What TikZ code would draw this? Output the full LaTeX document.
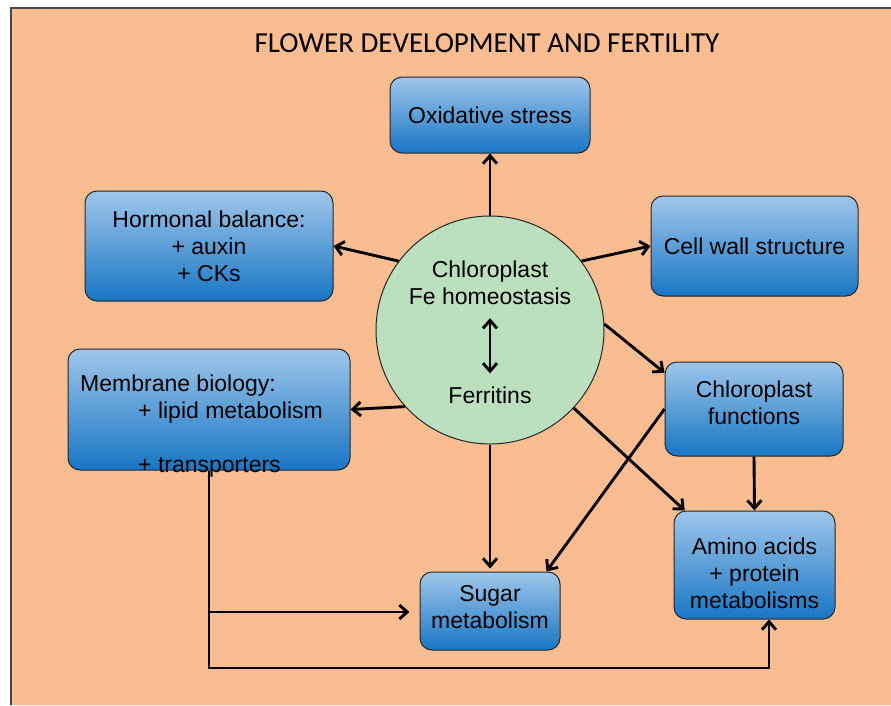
\documentclass[tikz,border=0pt]{standalone}
\usepackage{fontspec}
\setmainfont{Liberation Sans}
\newfontfamily\titlefont{Carlito}
\usetikzlibrary{arrows.meta}
\definecolor{bgOrange}{RGB}{249,189,145}
\definecolor{circGreen}{RGB}{188,224,190}
\definecolor{boxTop}{RGB}{160,198,234}
\definecolor{boxBot}{RGB}{24,118,196}
\definecolor{frameGray}{RGB}{70,70,70}
\tikzset{
	labelFont/.style={font=\fontsize{23}{27}\selectfont},
	blueBox/.style={draw=black!85,line width=1pt,rounded corners=12pt,top color=boxTop,bottom color=boxBot,align=center,inner sep=0pt,labelFont},
	boxText/.style={labelFont,align=center,inner sep=0pt},
	feCircle/.style={draw=black!85,line width=1pt,fill=circGreen,circle,minimum size=228pt,inner sep=0pt},
	arrowLine/.style={line width=2.9pt,-{Straight Barb[length=8pt,width=14pt]}},
}
\begin{document}
\begin{tikzpicture}[x=1pt,y=-1pt]
			\useasboundingbox (0,0) rectangle (891,705);
			\fill [bgOrange] (11,8) rectangle (891,705);
			\draw [frameGray,line width=2pt] (11,705) -- (11,8) -- (891,8);
			\node (title) at (487,43) {\titlefont\fontsize{29}{34}\selectfont FLOWER DEVELOPMENT AND FERTILITY};
			% centre: chloroplast Fe homeostasis
			\node [feCircle] (fe) at (490,330) {};
			\node [boxText] (chlfe) at (490,283) {Chloroplast\\Fe homeostasis};
			\node [boxText] (ferr) at (490,395) {Ferritins};
			% boxes
			\node [blueBox,minimum width=200pt,minimum height=76pt] (oxid) at (490,115) {Oxidative stress};
			\node [blueBox,minimum width=248pt,minimum height=110pt] (hormonal) at (209,246) {Hormonal balance:\\+ auxin\\+ CKs};
			\node [blueBox,minimum width=207pt,minimum height=100pt] (cellwall) at (754.5,246) {Cell wall structure};
			\node [blueBox,minimum width=282pt,minimum height=121pt] (membrane) at (209,409.5) {};
			\node [labelFont,align=left,anchor=north west,inner sep=0pt] (memtxt) at (80,375) {Membrane biology:\\\hspace*{58pt}+ lipid metabolism\\[27pt]\hspace*{58pt}+ transporters};
			\node [blueBox,minimum width=178pt,minimum height=94pt] (chlfun) at (754,409) {};
			\node [boxText] (chlfunTxt) at (754,403) {Chloroplast\\functions};
			\node [blueBox,minimum width=161pt,minimum height=108pt] (amino) at (754.5,565) {};
			\node [boxText] (aminoTxt) at (754.5,573) {Amino acids\\+ protein\\metabolisms};
			\node [blueBox,minimum width=140pt,minimum height=78pt] (sugar) at (490,611) {};
			\node [boxText] (sugarTxt) at (490,607) {Sugar\\metabolism};
			\coordinate (branch) at (209,612);
			\coordinate (busEnd) at (769,668);
			% arrows
			\draw [line width=2.9pt,{Straight Barb[length=8pt,width=14pt]}-{Straight Barb[length=8pt,width=14pt]},shorten <=13pt,shorten >=13pt] (chlfe.south) to (ferr.north);
			\draw [arrowLine] (fe.north) to (oxid.south);
			\draw [arrowLine] (fe.143.5) to (hormonal.east);
			\draw [arrowLine] (fe.37) to (cellwall.west);
			\draw [arrowLine] (fe.3) to (chlfun.158);
			\draw [arrowLine] (fe.222) to (membrane.east);
			\draw [arrowLine,shorten >=3pt] (fe.south) to (sugar.north);
			\draw [arrowLine] (fe.317) to (amino.142);
			\draw [arrowLine] (chlfun.west) to (sugar.35);
			\draw [arrowLine] (chlfun.south) to (amino.north);
			\draw [arrowLine] (membrane.south) |- (busEnd) to (amino.south -| busEnd);
			\draw [arrowLine,shorten >=10pt] (branch) to (sugar.west |- branch);
\end{tikzpicture}
\end{document}
